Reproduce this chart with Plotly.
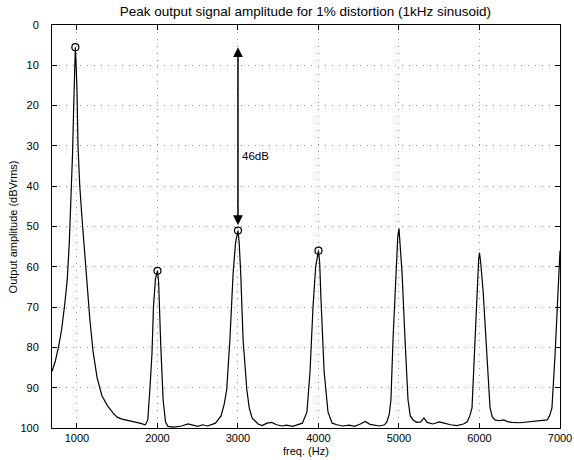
import plotly.graph_objects as go

# Spectrum: frequency (Hz) and output amplitude (dBVrms)
freq = [690, 730, 770, 810, 850, 880, 905, 925, 945, 960, 970, 980, 990, 1000, 1013, 1035, 1063, 1095,
        1125, 1160, 1200, 1250, 1310, 1380, 1450, 1500, 1560, 1660, 1780, 1850, 1880, 1907, 1932, 1950,
        1975, 2000, 2015, 2040, 2070, 2100, 2130,
        2200, 2300, 2380, 2430, 2500, 2560, 2620, 2680, 2720, 2790, 2830, 2860, 2900, 2940, 2970, 3000,
        3015, 3035, 3063, 3110, 3140, 3175, 3250,
        3300, 3360, 3420, 3480, 3550, 3600, 3680, 3740, 3800, 3857, 3895, 3932, 3965, 4000, 4015, 4031,
        4070, 4118, 4170, 4230,
        4300, 4380, 4450, 4520, 4580, 4640, 4700, 4760, 4820, 4850, 4880, 4900, 4926, 4963, 4985, 5000,
        5015, 5038, 5075, 5112, 5140, 5175,
        5220, 5270, 5310, 5350, 5420, 5500, 5560, 5640, 5720, 5800, 5845, 5880, 5907, 5933, 5970, 5990,
        6000, 6015, 6045, 6094, 6131, 6160, 6193,
        6240, 6300, 6350, 6400, 6500, 6600, 6700, 6800, 6840, 6870, 6900, 6938, 6975, 7000]
level = [86, 83.5, 80, 75.5, 69, 63, 54, 44, 32, 20, 12, 5.5, 10, 16, 30, 40, 48, 57,
         65, 73, 81, 87.5, 92, 94.5, 96.3, 97.3, 97.8, 98.2, 98.8, 99.2, 98, 90, 81.5, 70,
         63, 61, 64, 79, 93, 98.5, 99.6,
         99.8, 99.5, 99, 99.3, 99.6, 99.2, 99.5, 99.1, 98.8, 97, 94, 90.5, 78, 61.5, 54, 51,
         54, 62, 78, 90.5, 95, 97.5, 99,
         99.4, 98.8, 98.6, 99.2, 99.5, 99.3, 99.6, 99.2, 98.8, 96, 86, 70, 60, 56, 59, 68,
         86, 96, 98.8, 99.2,
         99.5, 99.3, 99.6, 99.0, 98.4, 99.1, 99.3, 99.5, 99.2, 98.5, 96.5, 93, 78, 61.5, 52.5, 50.5,
         54, 61.5, 78, 93, 97, 98,
         98.6, 98.5, 97.5, 98.6, 99, 98.5, 98.8, 99.2, 99.4, 99, 98.5, 97, 95, 82, 66, 58,
         56.5, 59, 66, 82, 95, 97.3, 98,
         98.2, 98, 98.4, 98.6, 98.7, 98.5, 98.4, 98.2, 98, 97, 95, 82, 66, 56]

# Marked peaks
peak_freq = [980, 2000, 3000, 4000]
peak_level = [5.5, 61, 51, 56]

x_ticks = [1000, 2000, 3000, 4000, 5000, 6000, 7000]
y_ticks = [0, 10, 20, 30, 40, 50, 60, 70, 80, 90, 100]

font = "Liberation Sans, Arial, Helvetica, sans-serif"

fig = go.Figure()
fig.add_trace(go.Scatter(x=freq, y=level, mode="lines",
                         line=dict(color="black", width=1.2), showlegend=False))
fig.add_trace(go.Scatter(x=peak_freq, y=peak_level, mode="markers",
                         marker=dict(symbol="circle-open", size=7, color="black",
                                     line=dict(width=1.2, color="black")),
                         showlegend=False))

fig.add_annotation(x=3000, y=5.5, ax=3000, ay=50, xref="x", yref="y", axref="x", ayref="y",
                   text="", showarrow=True, arrowhead=2, arrowside="end+start",
                   arrowsize=1.3, arrowwidth=1.5, arrowcolor="black")
fig.add_annotation(x=3030, y=32.5, xref="x", yref="y", text="46dB", showarrow=False,
                   xanchor="left", yanchor="middle", font=dict(size=11.5, color="black", family=font))

# axis titles
fig.add_annotation(x=0.5, y=-0.058, xref="paper", yref="paper", text="freq. (Hz)", showarrow=False,
                   xanchor="center", yanchor="middle", font=dict(size=11, color="black", family=font))
fig.add_annotation(x=-0.077, y=0.5, xref="paper", yref="paper", text="Output amplitude (dBVrms)",
                   showarrow=False, textangle=-90, xanchor="center", yanchor="middle",
                   font=dict(size=11, color="black", family=font))

axis_common = dict(showline=True, linecolor="black", linewidth=1, mirror="ticks",
                   ticks="inside", ticklen=5, tickcolor="black", automargin=False,
                   showgrid=True, gridcolor="#999999", gridwidth=1, griddash="1px,6px",
                   zeroline=False, tickfont=dict(size=11, color="black", family=font))

fig.update_xaxes(range=[690, 7000], tickvals=x_ticks, ticktext=[str(v) for v in x_ticks],
                 ticklabelstandoff=0, **axis_common)
fig.update_yaxes(range=[100, 0], tickvals=y_ticks, ticktext=[str(v) for v in y_ticks],
                 ticklabelstandoff=10, **axis_common)

fig.update_layout(
    width=574, height=460,
    margin=dict(l=52, r=14, t=25, b=32),
    paper_bgcolor="white", plot_bgcolor="white",
    title=dict(text="Peak output signal amplitude for 1% distortion (1kHz sinusoid)",
               x=0.532, xanchor="center", y=0.975, yanchor="middle",
               font=dict(size=13.5, color="black", family=font)),
)

fig.write_html("out.html", config={"displayModeBar": False},
               post_script="document.body.style.margin='0';")
